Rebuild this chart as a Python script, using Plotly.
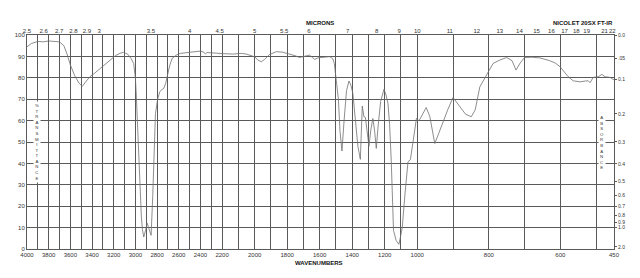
import numpy as np
import plotly.graph_objects as go

# ---- data ----
wavenumber = [4000, 3960, 3900, 3850, 3800, 3750, 3700, 3660, 3630, 3600, 3560, 3520, 3490, 3460, 3420,
              3380, 3330, 3280, 3230, 3180, 3140, 3108, 3070, 3040, 3016, 3000, 2991, 2975, 2960, 2945,
              2935, 2923, 2905, 2892, 2875, 2855, 2840, 2825, 2815, 2795, 2775, 2755, 2739, 2720, 2707,
              2685, 2661, 2620, 2585, 2500, 2450, 2400, 2370, 2354, 2340, 2300, 2250, 2200, 2134, 2080,
              2052, 2000, 1980, 1959, 1940, 1910, 1867, 1830, 1785, 1750, 1724, 1700, 1662, 1645, 1631,
              1610, 1580, 1539, 1520, 1510, 1498, 1485, 1475, 1463, 1450, 1435, 1420, 1408, 1396, 1380,
              1365, 1350, 1343, 1338, 1328, 1319, 1310, 1297, 1285, 1273, 1262, 1252, 1240, 1225, 1205,
              1192, 1180, 1170, 1160, 1146, 1130, 1113, 1102, 1092, 1075, 1057, 1042, 1025, 1005, 995,
              985, 975, 965, 951, 940, 928, 915, 900, 890, 881, 865, 849, 838, 825, 807, 788, 769, 750,
              735, 724, 712, 700, 680, 657, 630, 615, 601, 578, 564, 545, 530, 522, 517, 508, 494, 484,
              475, 461, 450]
transmittance = [94.5, 96.0, 97.0, 96.8, 97.2, 96.9, 96.8, 95.0, 91.0, 86.0, 81.0, 77.5, 76.0, 78.0, 80.5,
                 82.0, 84.2, 86.5, 88.5, 90.5, 91.5, 91.9, 91.0, 89.0, 86.7, 80.0, 71.0, 50.0, 30.0, 15.0,
                 9.0, 5.6, 9.0, 12.1, 9.5, 6.4, 25.0, 48.0, 63.3, 70.0, 73.5, 74.5, 75.0, 77.5, 80.5,
                 85.5, 89.1, 90.7, 91.4, 92.0, 92.4, 92.5, 92.0, 91.1, 91.8, 91.8, 91.5, 91.3, 91.1, 91.4,
                 91.1, 89.8, 88.3, 87.5, 88.5, 90.8, 92.2, 92.0, 91.1, 90.3, 89.5, 90.0, 90.6, 89.5, 88.6,
                 89.3, 89.5, 89.9, 89.0, 86.7, 78.9, 70.0, 55.0, 45.8, 60.0, 74.0, 78.5, 76.5, 72.7, 60.0,
                 48.0, 41.9, 55.0, 66.8, 61.8, 61.5, 56.0, 48.0, 56.0, 61.0, 55.0, 47.0, 58.0, 69.0, 74.6,
                 72.0, 68.0, 58.0, 41.5, 8.7, 4.0, 2.2, 6.0, 10.3, 26.0, 40.7, 41.8, 50.0, 61.0, 59.9,
                 63.0, 66.1, 62.0, 49.3, 54.0, 59.4, 65.0, 70.8, 68.5, 66.4, 63.0, 61.8, 65.0, 75.8, 81.3,
                 86.7, 88.3, 89.5, 88.0, 83.6, 87.0, 89.5, 89.6, 89.3, 88.0, 87.0, 85.2, 80.5, 78.6, 78.1,
                 78.5, 78.6, 77.7, 80.2, 80.5, 81.6, 80.5, 80.2, 79.0]

wn_label_values = [4000, 3800, 3600, 3400, 3200, 3000, 2800, 2600, 2400, 2200, 2000, 1800, 1600, 1400,
                   1200, 1000, 800, 600, 450]
wn_grid_values = list(range(4000, 999, -100)) + [900, 800, 700, 600, 500, 450]
micron_labels = ["2.5", "2.6", "2.7", "2.8", "2.9", "3", "3.5", "4", "4.5", "5", "5.5", "6", "7", "8",
                 "9", "10", "11", "12", "13", "14", "15", "16", "17", "18", "19", "21", "22"]
pct_ticks = [0, 10, 20, 30, 40, 50, 60, 70, 80, 90, 100]
absorbance_labels = ["0.0", ".05", "0.1", "0.2", "0.3", "0.4", "0.5", "0.6", "0.7", "0.8", "0.9", "1.0", "2.0"]


# ---- piecewise-linear wavenumber axis of the instrument chart ----
def u(wn):
    wn = float(wn)
    if wn >= 2200:
        return 4000 - wn
    if wn >= 1000:
        return 1800 + (2200 - wn) * 1.5
    return 3600 + (1000 - wn) * 3.3


x_vals = [u(w) for w in wavenumber]
grid_u = [u(w) for w in wn_grid_values]
grid_text = [str(w) if w in wn_label_values else "" for w in wn_grid_values]
micron_u = [u(10000.0 / float(m)) for m in micron_labels]
abs_vals = [float(a) for a in absorbance_labels]
abs_pos = [100 * 10 ** (-a) for a in abs_vals]

FONT = "Liberation Sans, Arial, sans-serif"
GRID = "#5a5a5a"
TXT = "#333333"

fig = go.Figure()
fig.add_trace(go.Scatter(x=x_vals, y=transmittance, mode="lines",
                         line=dict(color="#707070", width=0.8), showlegend=False,
                         hoverinfo="skip"))
# invisible traces to activate the secondary axes
fig.add_trace(go.Scatter(x=[u(4000)], y=[0], xaxis="x2", mode="markers",
                         marker=dict(opacity=0), showlegend=False, hoverinfo="skip"))
fig.add_trace(go.Scatter(x=[u(4000)], y=[0], yaxis="y2", mode="markers",
                         marker=dict(opacity=0), showlegend=False, hoverinfo="skip"))

rng = [u(4000), u(450)]
fig.update_layout(
    width=640, height=278,
    margin=dict(l=27, r=26, t=35, b=29),
    paper_bgcolor="white", plot_bgcolor="white",
    font=dict(family=FONT, size=6, color=TXT),
    xaxis=dict(range=rng, tickmode="array", tickvals=grid_u, ticktext=grid_text,
               showgrid=True, gridcolor=GRID, gridwidth=1, zeroline=False,
               showline=True, linecolor=GRID, linewidth=1, mirror=True,
               ticks="", tickangle=0, tickfont=dict(size=6, color=TXT, family=FONT)),
    xaxis2=dict(range=rng, overlaying="x", side="top", tickmode="array",
                tickvals=micron_u, ticktext=micron_labels, showgrid=False,
                zeroline=False, showline=False, ticks="", tickangle=0,
                tickfont=dict(size=6, color=TXT, family=FONT)),
    yaxis=dict(range=[0, 100], tickmode="array", tickvals=pct_ticks,
               showgrid=True, gridcolor=GRID, gridwidth=1, zeroline=False,
               showline=True, linecolor=GRID, linewidth=1, mirror=True,
               ticks="", tickfont=dict(size=6, color=TXT, family=FONT)),
    yaxis2=dict(range=[0, 100], overlaying="y", side="right", tickmode="array",
                tickvals=abs_pos, ticktext=absorbance_labels, showgrid=False,
                zeroline=False, showline=False, ticks="outside", ticklen=2,
                tickcolor=GRID, tickfont=dict(size=5, color=TXT, family=FONT)),
)

trans_text = "<br>".join(list("%TRANSMITTANCE"))
abs_text = "<br>".join(list("ABSORBANCE"))
fig.add_annotation(text=trans_text, xref="paper", yref="paper", x=0.0175, y=0.502,
                   showarrow=False, font=dict(size=4.3, color=TXT, family=FONT),
                   bgcolor="white", borderpad=1, align="center",
                   xanchor="center", yanchor="middle")
fig.add_annotation(text=abs_text, xref="paper", yref="paper", x=0.9796, y=0.50,
                   showarrow=False, font=dict(size=4.3, color=TXT, family=FONT),
                   bgcolor="white", borderpad=1, align="center",
                   xanchor="center", yanchor="middle")
fig.add_annotation(text="<b>MICRONS</b>", xref="paper", yref="paper", x=0.499, y=1.057,
                   xanchor="center", yanchor="middle", showarrow=False,
                   font=dict(size=6, color="#111111", family=FONT))
fig.add_annotation(text="<b>NICOLET 20SX FT-IR</b>", xref="paper", yref="paper", x=1.002,
                   y=1.057, xanchor="right", yanchor="middle", showarrow=False,
                   font=dict(size=6, color="#111111", family=FONT))
fig.add_annotation(text="<b>WAVENUMBERS</b>", xref="paper", yref="paper", x=0.498, y=-0.066,
                   xanchor="center", yanchor="middle", showarrow=False,
                   font=dict(size=6, color="#111111", family=FONT))

fig.write_html("out.html")
